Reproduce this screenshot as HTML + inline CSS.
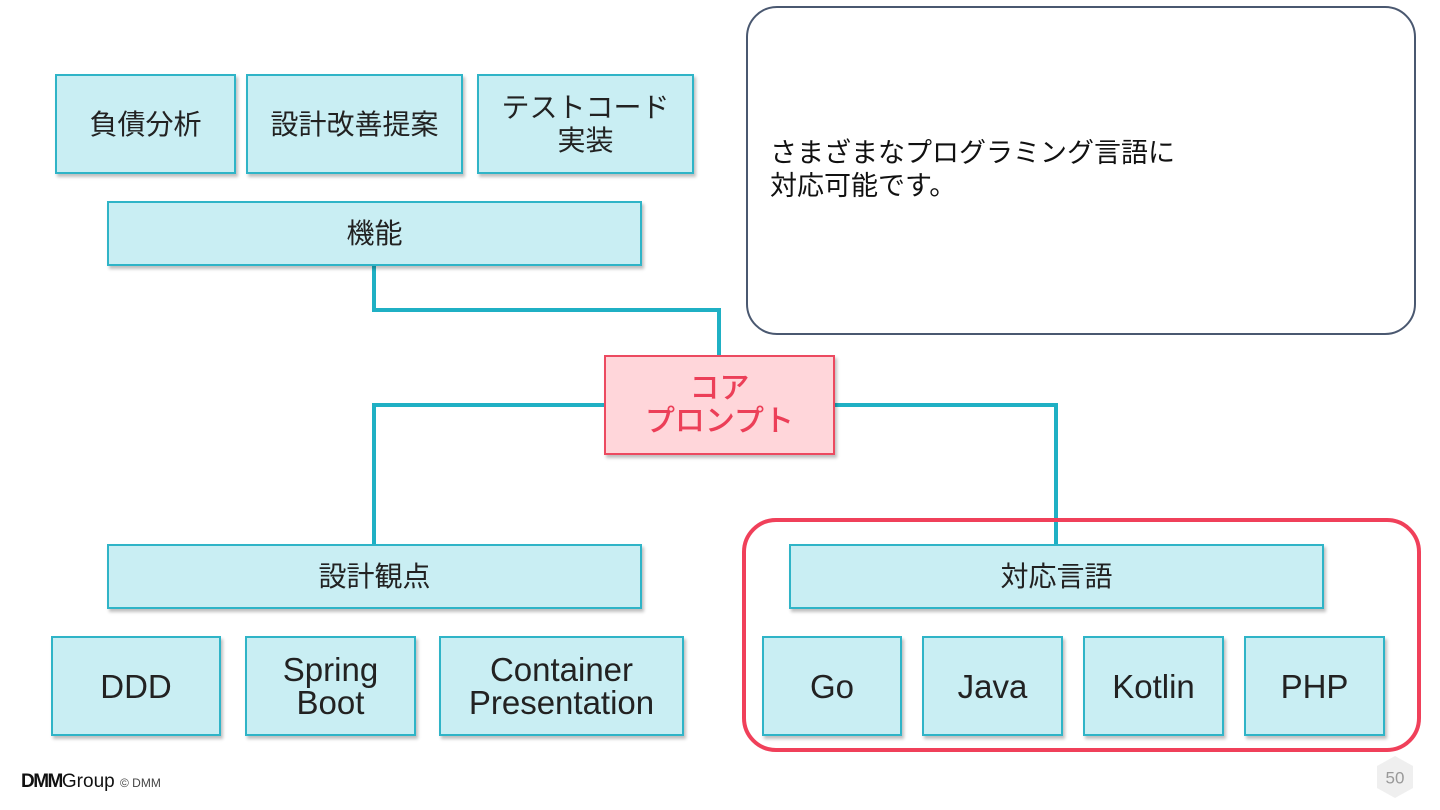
<!DOCTYPE html>
<html><head><meta charset="utf-8"><style>
body{margin:0;width:1440px;height:810px;background:#fff;position:relative;overflow:hidden;font-family:"Liberation Sans","Noto Sans CJK JP",sans-serif;}
.b{position:absolute;box-sizing:border-box;background:#c9eef3;border:2px solid #2fb4c7;box-shadow:2px 3px 3px rgba(0,0,0,0.25);display:flex;align-items:center;justify-content:center;text-align:center;font-size:28px;line-height:33px;color:#222;}
.l{font-size:33px;line-height:33px;}
</style></head><body>
<svg style="position:absolute;left:0;top:0" width="1440" height="810">
<g fill="none" stroke="#1fb0c4" stroke-width="4">
<polyline points="374,266 374,310 719,310 719,355"/>
<polyline points="604,405 374,405 374,544"/>
<polyline points="835,405 1056,405 1056,544"/>
</g>
<rect x="744" y="520" width="675" height="230" rx="32" fill="none" stroke="#f0405a" stroke-width="4"/>
<rect x="747" y="7" width="668" height="327" rx="30" fill="#fff" stroke="#4a5870" stroke-width="2"/>
<polygon points="1395,756 1413,766 1413,788 1395,798 1377,788 1377,766" fill="#efefef"/>
<text x="1395" y="779" font-size="17" fill="#999" text-anchor="middle" dominant-baseline="middle" font-family="Liberation Sans">50</text>
</svg>
<div style="position:absolute;left:770px;top:137px;font-size:27px;line-height:33px;color:#111">さまざまなプログラミング言語に<br>対応可能です。</div>
<div class="b" style="left:55px;top:74px;width:181px;height:100px">負債分析</div>
<div class="b" style="left:246px;top:74px;width:217px;height:100px">設計改善提案</div>
<div class="b" style="left:477px;top:74px;width:217px;height:100px">テストコード<br>実装</div>
<div class="b" style="left:107px;top:201px;width:535px;height:65px">機能</div>
<div class="b" style="left:604px;top:355px;width:231px;height:100px;background:#ffd6da;border-color:#ec4a60;color:#ec3f58;font-size:30px;font-weight:500">コア<br>プロンプト</div>
<div class="b" style="left:107px;top:544px;width:535px;height:65px">設計観点</div>
<div class="b" style="left:789px;top:544px;width:535px;height:65px">対応言語</div>
<div class="b l" style="left:51px;top:636px;width:170px;height:100px">DDD</div>
<div class="b l" style="left:245px;top:636px;width:171px;height:100px">Spring<br>Boot</div>
<div class="b l" style="left:439px;top:636px;width:245px;height:100px">Container<br>Presentation</div>
<div class="b l" style="left:762px;top:636px;width:140px;height:100px">Go</div>
<div class="b l" style="left:922px;top:636px;width:141px;height:100px">Java</div>
<div class="b l" style="left:1083px;top:636px;width:141px;height:100px">Kotlin</div>
<div class="b l" style="left:1244px;top:636px;width:141px;height:100px">PHP</div>
<div style="position:absolute;left:21px;top:771px;font-size:19px;color:#111;white-space:nowrap"><b style="letter-spacing:-1.5px">DMM</b>Group <span style="font-size:12px;color:#444">© DMM</span></div>
</body></html>
